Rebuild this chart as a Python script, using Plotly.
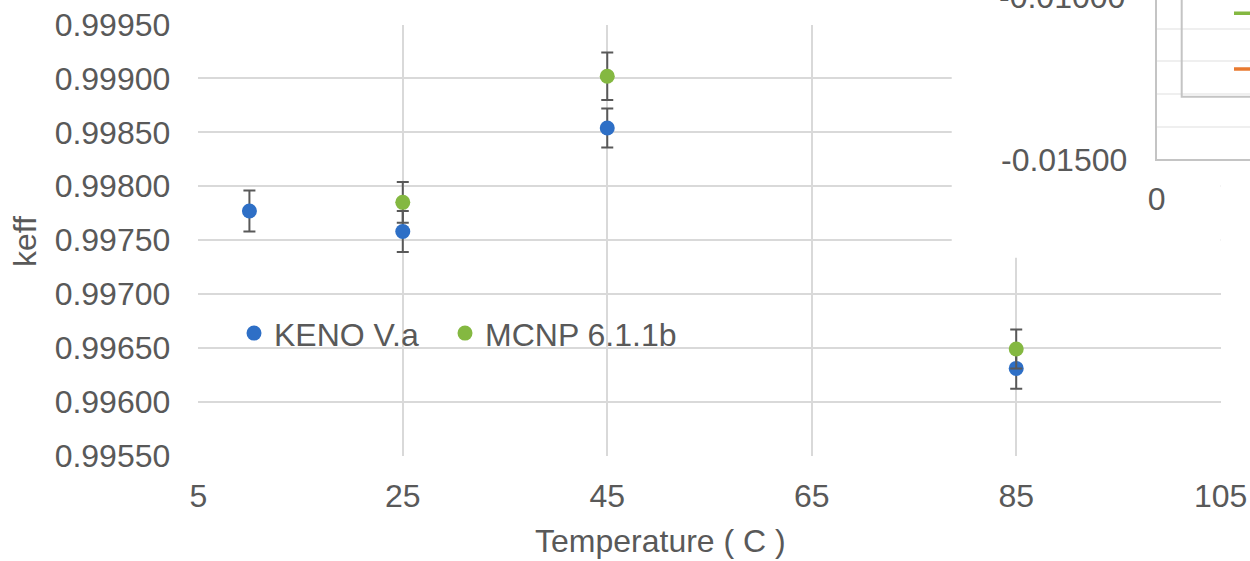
import plotly.graph_objects as go

# Measured keff values with 1-sigma uncertainties
keno_temp = [10, 25, 45, 85]
keno_keff = [0.99777, 0.99758, 0.99854, 0.99631]
keno_err = [0.00019, 0.00019, 0.00018, 0.00019]

mcnp_temp = [25, 45, 85]
mcnp_keff = [0.99785, 0.99902, 0.99649]
mcnp_err = [0.00019, 0.00022, 0.00018]

x_ticks = [5, 25, 45, 65, 85, 105]
y_ticks = [0.9955, 0.9960, 0.9965, 0.9970, 0.9975, 0.9980, 0.9985, 0.9990, 0.9995]

# Second (partially visible) chart in the upper right corner
inset_y_ticks = [-0.015, -0.014, -0.013, -0.012, -0.011]
inset_y_text = ["-0.01500", "", "", "", ""]

W, H = 1250, 561
FONT = "Liberation Sans, Arial, sans-serif"
TXT = "#595959"
BLUE = "#2E6FC6"
GREEN = "#84B841"
ORANGE = "#E97A30"
GRID = "#d9d9d9"

X_RANGE = [5, 105]
Y_RANGE = [0.9955, 0.9995]


def px_x(p):
    return p / W


def px_y(p):
    return 1 - p / H


fig = go.Figure()

err_style = dict(type="data", color="#595959", thickness=2, width=6)

fig.add_trace(go.Scatter(
    x=keno_temp, y=keno_keff, mode="markers", name="KENO V.a",
    marker=dict(size=15, color=BLUE),
    error_y=dict(array=keno_err, **err_style),
    legend="legend",
))
fig.add_trace(go.Scatter(
    x=mcnp_temp, y=mcnp_keff, mode="markers", name="MCNP 6.1.1b",
    marker=dict(size=15, color=GREEN),
    error_y=dict(array=mcnp_err, **err_style),
    legend="legend2",
))
# The corner chart's own series lie outside its visible part; an empty
# trace keeps its axes in place
fig.add_trace(go.Scatter(
    x=[], y=[], xaxis="x2", yaxis="y2", mode="lines",
    showlegend=False, hoverinfo="skip",
))

main_left, main_right = 198.3, 1220.7
main_top, main_bottom = 24.5, 455.7
inset_left, inset_bottom = 1156.7, 159.3

tick_font = dict(size=32, color=TXT, family=FONT)

fig.update_layout(
    width=W, height=H,
    margin=dict(l=0, r=0, t=0, b=0, autoexpand=False),
    paper_bgcolor="white", plot_bgcolor="white",
    font=dict(family=FONT, size=32, color=TXT),
    xaxis=dict(
        domain=[px_x(main_left), px_x(main_right)], automargin=False,
        range=X_RANGE, tickvals=x_ticks,
        showgrid=True, gridcolor=GRID, gridwidth=1.5,
        zeroline=False, showline=False, ticks="",
        ticklabelstandoff=18, tickfont=tick_font,
    ),
    yaxis=dict(
        domain=[px_y(main_bottom), px_y(main_top)], automargin=False,
        range=Y_RANGE, tickvals=y_ticks, tickformat=".5f",
        showgrid=True, gridcolor=GRID, gridwidth=1.5,
        zeroline=False, showline=False, ticks="",
        ticklabelstandoff=27, tickfont=tick_font,
    ),
    xaxis2=dict(
        domain=[px_x(inset_left), 1], anchor="y2", automargin=False,
        range=[0, 10], tickvals=[0], ticktext=["0"],
        showgrid=False, zeroline=False,
        showline=True, linecolor="#c4c4c4", linewidth=2, ticks="",
        ticklabelstandoff=10, tickfont=tick_font,
    ),
    yaxis2=dict(
        domain=[px_y(inset_bottom), 1], anchor="x2", automargin=False,
        range=[-0.015, -0.015 + inset_bottom / 32700],
        tickvals=inset_y_ticks, ticktext=inset_y_text,
        showgrid=True, gridcolor="#efefef", gridwidth=2,
        zeroline=False,
        showline=True, linecolor="#c4c4c4", linewidth=2, ticks="",
        ticklabelstandoff=21, tickfont=tick_font,
    ),
    legend=dict(
        x=px_x(234), y=px_y(333.3), xanchor="left", yanchor="middle",
        bgcolor="rgba(0,0,0,0)", borderwidth=0, font=tick_font,
    ),
    legend2=dict(
        x=px_x(445), y=px_y(333.3), xanchor="left", yanchor="middle",
        bgcolor="rgba(0,0,0,0)", borderwidth=0, font=tick_font,
    ),
    showlegend=True,
)

# White chart area of the corner chart, hiding the main gridlines beneath it
main_w = main_right - main_left
main_h = main_bottom - main_top
x_span = X_RANGE[1] - X_RANGE[0]
y_span = Y_RANGE[1] - Y_RANGE[0]
fig.add_shape(
    type="rect", xref="x", yref="y", layer="between",
    x0=X_RANGE[0] + (951.7 - main_left) / main_w * x_span,
    x1=X_RANGE[1] + 0.1 * x_span,
    y0=Y_RANGE[0] + (main_bottom - 257.7) / main_h * y_span,
    y1=Y_RANGE[1] + 0.1 * y_span,
    fillcolor="white", line=dict(width=0),
)

# Legend box of the corner chart and its two line samples
fig.add_shape(
    type="rect", xref="paper", yref="paper", layer="above",
    x0=px_x(1181.7), x1=1.05, y0=px_y(96.7), y1=1.05,
    fillcolor="rgba(0,0,0,0)", line=dict(color="#c4c4c4", width=2),
)
for ypix, col in [(13.3, GREEN), (69.0, ORANGE)]:
    fig.add_shape(
        type="line", xref="paper", yref="paper", layer="above",
        x0=px_x(1234), x1=1.02, y0=px_y(ypix), y1=px_y(ypix),
        line=dict(color=col, width=3.5),
    )

# Upper tick label of the corner chart, sitting just past its top edge
fig.add_annotation(
    x=px_x(1127), y=px_y(-3.2), xref="paper", yref="paper",
    xanchor="right", yanchor="middle", showarrow=False,
    text="-0.01000", font=tick_font,
)

# Axis titles
fig.add_annotation(
    x=px_x(660), y=px_y(541), xref="paper", yref="paper",
    xanchor="center", yanchor="middle", showarrow=False,
    text="Temperature ( C )", font=tick_font,
)
fig.add_annotation(
    x=px_x(25), y=px_y(242), xref="paper", yref="paper",
    xanchor="center", yanchor="middle", showarrow=False, textangle=-90,
    text="keff", font=tick_font,
)

fig.write_html("out.html")
